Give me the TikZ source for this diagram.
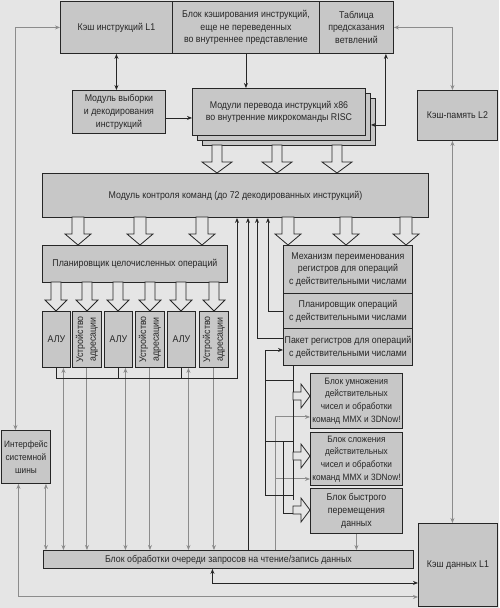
\documentclass[tikz,border=0pt]{standalone}
\usepackage{fontspec}
\setmainfont{Liberation Sans}[FakeStretch=0.9]
\usetikzlibrary{arrows.meta,calc}

\definecolor{paper}{gray}{0.90}
\definecolor{boxfill}{gray}{0.78}
\definecolor{ink}{gray}{0.15}
\definecolor{grayink}{gray}{0.55}

\newcommand{\txt}{\fontsize{9.8}{12.8}\selectfont}
\newcommand{\smalltxt}{\fontsize{9.2}{12.8}\selectfont}
% hollow arrow pointing down: x, top, bottom, stem half width, head half width
\newcommand{\hollowdown}[5]{%
  \draw[fat] ({#1-#4},#2) -- ({#1-#4},{#3-11}) -- ({#1-#5},{#3-11}) -- (#1,#3)
    -- ({#1+#5},{#3-11}) -- ({#1+#4},{#3-11}) -- ({#1+#4},#2) -- cycle;}
% hollow arrow pointing right: x left, x right, y
\newcommand{\hollowright}[3]{%
  \draw[fat] (#1,{#3-4}) -- ({#2-9},{#3-4}) -- ({#2-9},{#3-12}) -- (#2,#3)
    -- ({#2-9},{#3+12}) -- ({#2-9},{#3+4}) -- (#1,{#3+4}) -- cycle;}

\begin{document}
\begin{tikzpicture}[x=1pt, y=-1pt,
    >={Stealth[length=5pt,width=4pt]},
    box/.style={draw=ink, fill=boxfill, line width=0.9pt, inner sep=1pt, align=center, anchor=north west, font=\txt, text=ink},
    lbl/.style={font=\txt, text=ink, align=center, inner sep=0pt},
    link/.style={draw=ink, line width=0.9pt},
    glink/.style={draw=grayink, line width=1pt},
    fat/.style={draw=ink, fill=paper, line width=0.8pt}]

    \fill[paper] (0,0) rectangle (499,608);
    \useasboundingbox (0,0) rectangle (499,608);

    % Top row - caches and branch table
    \node[box, minimum width=112pt, minimum height=52pt] (l1i) at (60,1) {Кэш инструкций L1};
    \node[box, minimum width=147pt, minimum height=52pt] (tcache) at (172,1) {Блок кэширования инструкций,\\еще не переведенных\\во внутреннее представление};
    \node[box, minimum width=74pt, minimum height=52pt] (btb) at (319,1) {Таблица\\предсказания\\ветвлений};

    % Second row - fetch and x86 translation
    \node[box, minimum width=93pt, minimum height=43pt] (fetch) at (72,90) {Модуль выборки\\и декодирования\\инструкций};
    \node[box, minimum width=173pt, minimum height=47pt] (xlat3) at (202,98) {};
    \node[box, minimum width=173pt, minimum height=47pt] (xlat2) at (197,93) {};
    \node[box, minimum width=173pt, minimum height=47pt] (xlat) at (192,88) {Модули перевода инструкций x86\\во внутренние микрокоманды RISC};
    \node[box, minimum width=80pt, minimum height=50pt] (l2) at (417,90) {Кэш-память L2};

    % Instruction control
    \node[box, minimum width=386pt, minimum height=44pt] (rob) at (42,173) {Модуль контроля команд (до 72 декодированных инструкций)};

    % Integer side
    \node[box, minimum width=185pt, minimum height=37pt] (isched) at (42,245) {Планировщик целочисленных операций};
    \foreach \i/\xa/\xb in {1/42/72, 2/104/135, 3/167/199} {
      \node[box, minimum width=28pt, minimum height=56pt] (alu\i) at (\xa,311) {АЛУ};
      \node[box, minimum width=29pt, minimum height=56pt] (agu\i) at (\xb,311) {};
      \node[lbl, rotate=90] (agutxt\i) at (agu\i.center) {Устройство\\адресации};
    }

    % Floating point side
    \node[box, minimum width=129pt, minimum height=48pt] (fren) at (283,245) {Механизм переименования\\регистров для операций\\с действительными числами};
    \node[box, minimum width=129pt, minimum height=35pt] (fsched) at (283,293) {Планировщик операций\\с действительными числами};
    \node[box, minimum width=129pt, minimum height=37pt] (freg) at (283,328) {Пакет регистров для операций\\с действительными числами};
    \node[box, font=\smalltxt, minimum width=92pt, minimum height=55pt] (fmul) at (310,373) {Блок умножения\\действительных\\чисел и обработки\\команд MMX и 3DNow!};
    \node[box, font=\smalltxt, minimum width=92pt, minimum height=53pt] (fadd) at (310,432) {Блок сложения\\действительных\\чисел и обработки\\команд MMX и 3DNow!};
    \node[box, minimum width=92pt, minimum height=45pt] (fmov) at (310,488) {Блок быстрого\\перемещения\\данных};

    % Bus interface, load/store queue, data cache
    \node[box, font=\smalltxt, minimum width=49pt, minimum height=53pt] (biu) at (1,430) {Интерфейс\\системной\\шины};
    \node[box, minimum width=370pt, minimum height=18pt] (lsq) at (43,550) {Блок обработки очереди запросов на чтение/запись данных};
    \node[box, minimum width=79pt, minimum height=83pt] (l1d) at (418,523) {Кэш данных L1};

    % lanes for the lines up to the instruction control
    \coordinate (laneA) at (237,0);
    \coordinate (laneB) at (248,0);
    \coordinate (laneC) at (257,0);
    \coordinate (laneD) at (268,0);
    \coordinate (laneF) at (293,0);
    \coordinate (laneG) at (275,0);

    % Hollow arrows
    \foreach \x in {217,277,337} {\hollowdown{\x}{145}{173}{5}{15}}
    \foreach \x in {78,140,202,288,346,406} {\hollowdown{\x}{217}{245}{6}{13}}
    \foreach \x in {56,87,118,150,181,214} {\hollowdown{\x}{282}{311}{5}{11}}

    % Front end arrows
    \draw[link,<->] (l1i.south) -- (l1i.south |- fetch.north);
    \draw[link,->] (tcache.south) -- (tcache.south |- xlat.north);
    \draw[link,->] ([yshift=-6pt]fetch.east) -- ([yshift=-6pt]fetch.east -| xlat.west);
    \draw[link,<->] ([xshift=-8pt]btb.south east) |- ([yshift=-8pt]xlat2.east);

    % Memory paths
    \draw[glink,<->] ([xshift=-10.5pt]biu.north) |- (l1i.west);
    \draw[glink,<->] ([xshift=-5pt]l2.north) |- (btb.east);
    \draw[glink,<->] ([xshift=-5pt]l2.south) -- ([xshift=-5pt]l2.south |- l1d.north);
    \draw[glink,<->] ([xshift=-7.5pt]biu.south) |- ([yshift=-32pt]l1d.west);
    \draw[link,<->] ([xshift=-16pt]lsq.south) |- ([yshift=-18pt]l1d.west);

    % Units to load/store queue
    \draw[glink,<->] ([xshift=20pt]biu.south) -- ([xshift=20pt]biu.south |- lsq.north);
    \foreach \i in {1,2,3} {
      \draw[glink,<->] ([xshift=7pt]alu\i.south) -- ([xshift=7pt]alu\i.south |- lsq.north);
      \draw[glink,->] (agu\i.south) -- (agu\i.south |- lsq.north);
    }
    \draw[glink,->] (fmov.south) -- (fmov.south |- lsq.north);
    \coordinate (mulin) at ([yshift=-16pt]fmul.west);
    \coordinate (addin) at ([yshift=-20pt]fadd.west);
    \draw[glink,->] (laneG |- lsq.north) |- (mulin);
    \draw[glink,->] (laneG |- addin) -- (addin);

    % Results back to instruction control
    \coordinate (bus) at (237,378);
    \draw[link,->] (alu1.south) |- (bus) -- (bus |- rob.south);
    \draw[link] (alu2.south) -- (alu2.south |- bus);
    \draw[link] (alu3.south) -- (alu3.south |- bus);
    \draw[link,->] (laneB |- lsq.north) -- (laneB |- rob.south);
    \draw[link,->] ([yshift=9pt]freg.west) -| (laneC |- rob.south);
    \draw[link,->] (fsched.west) -| (laneD |- rob.south);

    % Register file to FP units and back
    \coordinate (fpend) at (293,500);
    \coordinate (fb) at (265,495);
    \draw[link] (laneF |- freg.south) -- (fpend);
    \draw[link,->] (fb) |- ([yshift=-3pt]freg.west);
    \foreach \y in {380,441,495} {\draw[link] (265,\y) -- (293,\y);}
    \draw[link] (283,441) |- (293,513);
    \foreach \y in {396,456,510} {\hollowright{293}{310}{\y}}
\end{tikzpicture}
\end{document}
